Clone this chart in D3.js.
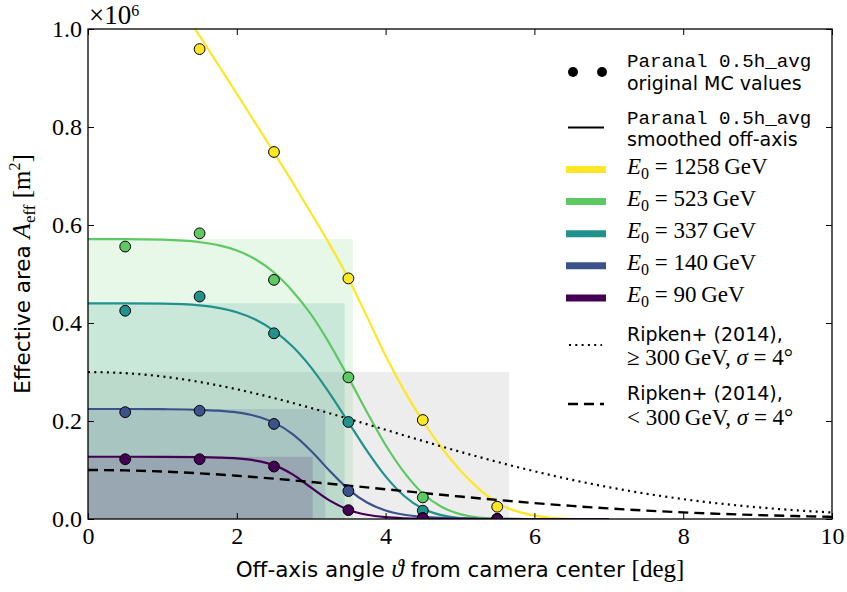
<!DOCTYPE html>
<html><head><meta charset="utf-8">
<script src="https://cdn.jsdelivr.net/npm/d3@7/dist/d3.min.js"></script>
<style>
body{margin:0;background:#fff}
svg{display:block}
</style>
</head><body>
<svg id="chart" width="847" height="592"></svg>
<script>
// ---- data (effective areas in units of 10^6 m^2, angles in deg) ----
const energies = ["1258", "523", "337", "140", "90"];
const colors = ["#fde725", "#5ec962", "#21918c", "#3b528b", "#440154"];

// off-axis angles of the original MC evaluations
const mcAngles = [0.5, 1.5, 2.5, 3.5, 4.5, 5.5];
const mc1258 = [1.06, 0.959, 0.749, 0.491, 0.202, 0.025];
const mc523  = [0.556, 0.583, 0.488, 0.289, 0.044, 0.0];
const mc337  = [0.425, 0.454, 0.379, 0.198, 0.017, 0.0];
const mc140  = [0.218, 0.221, 0.194, 0.057, 0.002, 0.0];
const mc90   = [0.122, 0.122, 0.107, 0.018, 0.0015, 0.0];

// smoothed off-axis effective area
const smoothAngles = [0, 0.5, 1, 1.5, 1.75, 2, 2.25, 2.5, 2.75, 3, 3.25, 3.5, 3.75, 4, 4.25, 4.5, 4.75, 5, 5.25, 5.5, 6, 6.5, 7];
const sm1258 = [1.18, 1.16, 1.09, 0.986, 0.927, 0.868, 0.808, 0.748, 0.687, 0.624, 0.560, 0.491, 0.413, 0.333, 0.262, 0.200, 0.146, 0.100, 0.062, 0.033, 0.007, 0.0, 0.0];
const sm523  = [0.571, 0.571, 0.570, 0.565, 0.559, 0.548, 0.530, 0.503, 0.465, 0.417, 0.357, 0.289, 0.218, 0.151, 0.095, 0.052, 0.025, 0.010, 0.003, 0.001, 0.0, 0.0, 0.0];
const sm337  = [0.440, 0.440, 0.4395, 0.436, 0.431, 0.422, 0.407, 0.384, 0.352, 0.309, 0.256, 0.1975, 0.139, 0.087, 0.047, 0.021, 0.008, 0.002, 0.0005, 0.0, 0.0, 0.0, 0.0];
const sm140  = [0.2245, 0.2245, 0.2241, 0.2229, 0.2211, 0.2175, 0.2103, 0.1967, 0.1733, 0.1388, 0.0979, 0.0606, 0.0338, 0.0175, 0.0087, 0.0043, 0.0021, 0.001, 0.0005, 0.0002, 0.0, 0.0, 0.0];
const sm90   = [0.127, 0.127, 0.1269, 0.1262, 0.1253, 0.1236, 0.1193, 0.1100, 0.0910, 0.0640, 0.0375, 0.0190, 0.0086, 0.0037, 0.0015, 0.0006, 0.0002, 0.0001, 0.0, 0.0, 0.0, 0.0, 0.0];

// plateau area and equivalent radius of each smoothed curve
const plateauArea   = [null, 0.571, 0.440, 0.2245, 0.127];
const plateauRadius = [null, 3.56, 3.45, 3.19, 3.02];

// Ripken+ (2014) Gaussian off-axis acceptance, sigma = 4 deg
const ripkenAngles = [0, 0.5, 1, 1.5, 2, 2.5, 3, 3.5, 4, 4.5, 5, 5.5, 6, 6.5, 7, 7.5, 8, 8.5, 9, 9.5, 10];
const ripkenHigh = [0.300, 0.2977, 0.2908, 0.2796, 0.2648, 0.2468, 0.2264, 0.2046, 0.1820, 0.1593, 0.1373, 0.1166, 0.0974, 0.0801, 0.0649, 0.0517, 0.0406, 0.0314, 0.0239, 0.0179, 0.0132];
const ripkenLow  = [0.100, 0.0992, 0.0969, 0.0932, 0.0883, 0.0823, 0.0755, 0.0682, 0.0607, 0.0531, 0.0458, 0.0389, 0.0325, 0.0267, 0.0216, 0.0172, 0.0135, 0.0105, 0.0080, 0.0060, 0.0044];
const ripkenHighRadius = 5.66;

const xTicks = [0, 2, 4, 6, 8, 10];
const yTicks = [0, 0.2, 0.4, 0.6, 0.8, 1.0];

// ---- layout ----
const SERIF = "'Liberation Serif', 'DejaVu Serif', serif";
const SANS = "'DejaVu Sans', 'Liberation Sans', sans-serif";
const MONO = "'Liberation Mono', 'DejaVu Sans Mono', monospace";
const plot = {left: 88, top: 29, right: 832, bottom: 519};

const svg = d3.select("#chart");
const x = d3.scaleLinear().domain([0, 10]).range([plot.left, plot.right]);
const y = d3.scaleLinear().domain([0, 1]).range([plot.bottom, plot.top]);

svg.append("defs").append("clipPath").attr("id", "plotclip")
  .append("rect").attr("x", plot.left).attr("y", plot.top)
  .attr("width", plot.right - plot.left).attr("height", plot.bottom - plot.top);

const mcSeries = [mc1258, mc523, mc337, mc140, mc90];
const smSeries = [sm1258, sm523, sm337, sm140, sm90];

const area = svg.append("g").attr("clip-path", "url(#plotclip)");

// equivalent-radius boxes
area.append("rect")
  .attr("x", x(0)).attr("y", y(ripkenHigh[0]))
  .attr("width", x(ripkenHighRadius) - x(0)).attr("height", y(0) - y(ripkenHigh[0]))
  .attr("fill", "#808080").attr("fill-opacity", 0.14);
energies.forEach((e, i) => {
  if (plateauArea[i] == null) return;
  area.append("rect")
    .attr("x", x(0)).attr("y", y(plateauArea[i]))
    .attr("width", x(plateauRadius[i]) - x(0)).attr("height", y(0) - y(plateauArea[i]))
    .attr("fill", colors[i]).attr("fill-opacity", 0.15);
});

const line = d3.line().x(d => x(d[0])).y(d => y(d[1])).curve(d3.curveMonotoneX);

// smoothed curves
energies.forEach((e, i) => {
  area.append("path")
    .attr("d", line(smoothAngles.map((a, j) => [a, smSeries[i][j]])))
    .attr("fill", "none").attr("stroke", colors[i]).attr("stroke-width", 2.2);
});

// Ripken curves
area.append("path")
  .attr("d", line(ripkenAngles.map((a, j) => [a, ripkenHigh[j]])))
  .attr("fill", "none").attr("stroke", "#000").attr("stroke-width", 2.2)
  .attr("stroke-dasharray", "2,4.3");
area.append("path")
  .attr("d", line(ripkenAngles.map((a, j) => [a, ripkenLow[j]])))
  .attr("fill", "none").attr("stroke", "#000").attr("stroke-width", 2.4)
  .attr("stroke-dasharray", "10,6");

// original MC points
energies.forEach((e, i) => {
  area.append("g").selectAll("circle")
    .data(mcAngles.map((a, j) => [a, mcSeries[i][j]]))
    .join("circle")
    .attr("cx", d => x(d[0])).attr("cy", d => y(d[1])).attr("r", 5.4)
    .attr("fill", colors[i]).attr("stroke", "#000").attr("stroke-width", 1);
});

// ---- axes ----
function styleAxis(g) {
  g.select(".domain").remove();
  g.selectAll(".tick line").attr("stroke", "#000").attr("stroke-width", 1);
  g.selectAll(".tick text").attr("font-family", SERIF).attr("font-size", 24).attr("fill", "#000");
}
svg.append("g").attr("transform", `translate(0,${plot.bottom})`)
  .call(d3.axisBottom(x).tickValues(xTicks).tickSize(-6).tickPadding(8).tickFormat(d3.format("d")))
  .call(styleAxis);
svg.append("g").attr("transform", `translate(0,${plot.top})`)
  .call(d3.axisTop(x).tickValues(xTicks).tickSize(-6).tickFormat(""))
  .call(styleAxis);
svg.append("g").attr("transform", `translate(${plot.left},0)`)
  .call(d3.axisLeft(y).tickValues(yTicks).tickSize(-6).tickPadding(6).tickFormat(d3.format(".1f")))
  .call(styleAxis);
svg.append("g").attr("transform", `translate(${plot.right},0)`)
  .call(d3.axisRight(y).tickValues(yTicks).tickSize(-6).tickFormat(""))
  .call(styleAxis);

svg.append("rect")
  .attr("x", plot.left).attr("y", plot.top)
  .attr("width", plot.right - plot.left).attr("height", plot.bottom - plot.top)
  .attr("fill", "none").attr("stroke", "#000").attr("stroke-width", 1.3);

// offset text
const off = svg.append("text").attr("x", 89).attr("y", 24)
  .attr("font-family", SERIF).attr("fill", "#000");
off.append("tspan").attr("font-size", 27).text("×10");
off.append("tspan").attr("font-size", 16).attr("dy", -8).text("6");

// axis labels
const xl = svg.append("text").attr("x", (plot.left + plot.right) / 2).attr("y", 577)
  .attr("text-anchor", "middle").attr("font-size", 21.5).attr("font-family", SANS);
xl.append("tspan").text("Off-axis angle ");
xl.append("tspan").attr("font-family", SERIF).attr("font-style", "italic").attr("font-size", 25).text("ϑ");
xl.append("tspan").text(" from camera center ");
xl.append("tspan").attr("font-family", SERIF).attr("font-size", 25).text("[deg]");

const yl = svg.append("text")
  .attr("transform", "translate(30,274) rotate(-90)")
  .attr("text-anchor", "middle").attr("font-size", 21.5).attr("font-family", SANS);
yl.append("tspan").text("Effective area ");
yl.append("tspan").attr("font-family", SERIF).attr("font-style", "italic").attr("font-size", 25).text("A");
yl.append("tspan").attr("font-family", SERIF).attr("font-size", 17).attr("dy", 5).text("eff");
yl.append("tspan").attr("font-family", SERIF).attr("font-size", 25).attr("dy", -5).text(" [m");
yl.append("tspan").attr("font-family", SERIF).attr("font-size", 16).attr("dy", -10).text("2");
yl.append("tspan").attr("font-family", SERIF).attr("font-size", 25).attr("dy", 10).text("]");

// ---- legend ----
const lg = svg.append("g");
const tx = 627, mx0 = 567, mx1 = 605;

function textLine(yy, parts) {
  const t = lg.append("text").attr("x", tx).attr("y", yy).attr("fill", "#000");
  parts.forEach(p => {
    const s = t.append("tspan").text(p.t)
      .attr("font-family", p.f || SANS).attr("font-size", p.s || 19);
    if (p.i) s.attr("font-style", "italic");
    if (p.dy) s.attr("dy", p.dy);
  });
}

// MC points entry
[573, 602].forEach(cx => lg.append("circle").attr("cx", cx).attr("cy", 72).attr("r", 5).attr("fill", "#000"));
textLine(66.5, [{t: "Paranal 0.5h_avg", f: MONO, s: 19.2}]);
textLine(90, [{t: "original MC values"}]);

// smoothed entry
lg.append("line").attr("x1", 568).attr("x2", 604).attr("y1", 127.5).attr("y2", 127.5)
  .attr("stroke", "#000").attr("stroke-width", 2.2);
textLine(123.5, [{t: "Paranal 0.5h_avg", f: MONO, s: 19.2}]);
textLine(146, [{t: "smoothed off-axis"}]);

// energies
energies.forEach((e, i) => {
  const yy = 169.5 + i * 32.1;
  lg.append("line").attr("x1", mx0 - 1).attr("x2", mx1 + 1).attr("y1", yy).attr("y2", yy)
    .attr("stroke", colors[i]).attr("stroke-width", 7);
  textLine(yy + 4.5, [
    {t: "E", f: SERIF, s: 23, i: true},
    {t: "0", f: SERIF, s: 16, dy: 5},
    {t: " = " + e + "\u2009GeV", f: SERIF, s: 23, dy: -5}
  ]);
});

// Ripken entries
lg.append("line").attr("x1", 569).attr("x2", 602).attr("y1", 345).attr("y2", 345)
  .attr("stroke", "#000").attr("stroke-width", 2.2).attr("stroke-dasharray", "2,4.3");
textLine(341, [{t: "Ripken+ (2014),"}]);
textLine(365, [
  {t: "≥ 300\u2009GeV, ", f: SERIF, s: 23},
  {t: "σ", f: SERIF, s: 23, i: true},
  {t: " = 4°", f: SERIF, s: 23}
]);
lg.append("line").attr("x1", 568).attr("x2", 604).attr("y1", 404).attr("y2", 404)
  .attr("stroke", "#000").attr("stroke-width", 2.4).attr("stroke-dasharray", "10,6");
textLine(400, [{t: "Ripken+ (2014),"}]);
textLine(424.5, [
  {t: "< 300\u2009GeV, ", f: SERIF, s: 23},
  {t: "σ", f: SERIF, s: 23, i: true},
  {t: " = 4°", f: SERIF, s: 23}
]);
</script>
</body></html>
